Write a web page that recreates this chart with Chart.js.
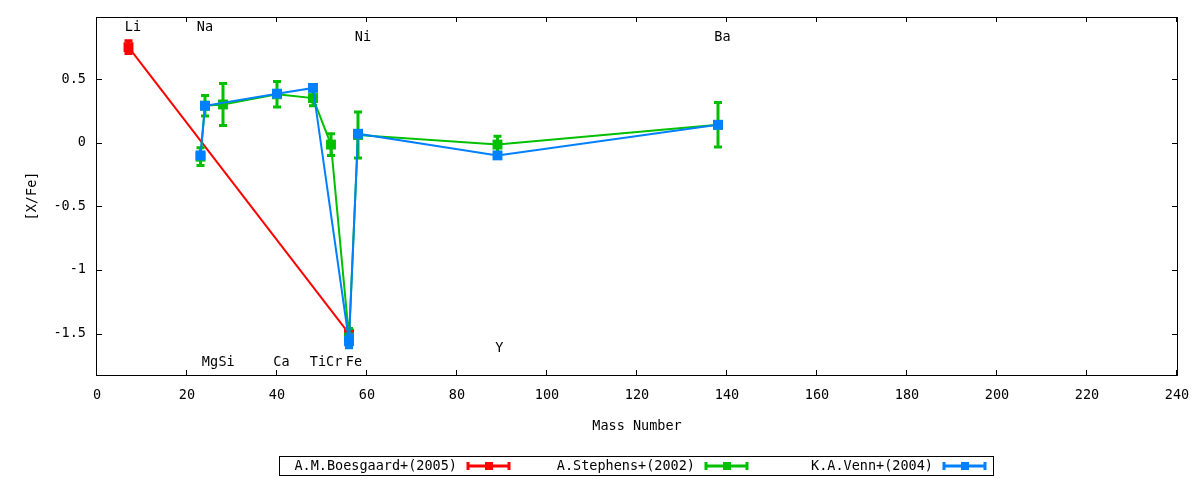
<!DOCTYPE html>
<html>
<head>
<meta charset="utf-8">
<script src="https://cdn.jsdelivr.net/npm/chart.js@4.4.1/dist/chart.umd.min.js"></script>
<style>
html, body { margin: 0; padding: 0; background: #fff; }
#wrap { width: 1200px; height: 480px; }
</style>
</head>
<body>
<div id="wrap"><canvas id="chart"></canvas></div>
<script>
// values
var boesX = [7, 56];
var boesY = [0.75, -1.50];
var boesErr = [0.05, 0.03];

var stepX = [23, 24, 28, 40, 48, 52, 56, 58, 89, 138];
var stepY = [-0.11, 0.29, 0.30, 0.38, 0.35, -0.015, -1.53, 0.06, -0.015, 0.14];
var stepErr = [0.07, 0.08, 0.165, 0.10, 0.06, 0.085, 0.07, 0.18, 0.065, 0.175];

var vennX = [23, 24, 40, 48, 56, 58, 89, 138];
var vennY = [-0.10, 0.29, 0.385, 0.43, -1.56, 0.07, -0.10, 0.14];
var vennErr = [0.02, 0.02, 0.02, 0.02, 0.05, 0.02, 0.02, 0.02];

var xTicks = [0, 20, 40, 60, 80, 100, 120, 140, 160, 180, 200, 220, 240];
var yTicks = [-1.5, -1, -0.5, 0, 0.5];

var elemNames = ['Li', 'Na', 'Mg', 'Si', 'Ca', 'Ti', 'Cr', 'Fe', 'Ni', 'Y', 'Ba'];
var elemX = [8, 24, 25.1, 28.8, 41, 49.1, 52.7, 57.1, 59.1, 89.4, 139];
var elemY = [0.905, 0.905, -1.725, -1.725, -1.725, -1.725, -1.725, -1.725, 0.825, -1.615, 0.825];

var FONT = '"DejaVu Sans Mono", monospace';
var FSIZE = 13.5;

function pts(xs, ys) {
    var out = [];
    for (var i = 0; i < xs.length; i++) out.push({x: xs[i], y: ys[i]});
    return out;
}

function series(label, color, xs, ys, errs, order) {
    return {
        label: label,
        data: pts(xs, ys),
        errors: errs,
        borderColor: color,
        backgroundColor: color,
        borderWidth: 2,
        showLine: true,
        tension: 0,
        pointStyle: 'rect',
        pointRadius: 7,
        pointHoverRadius: 7,
        pointBorderWidth: 0,
        order: order
    };
}

var gnuplotLook = {
    id: 'gnuplotLook',
    afterDatasetDraw: function(chart, args) {
        var ds = chart.data.datasets[args.index];
        var xs = chart.scales.x, ys = chart.scales.y;
        var ctx = chart.ctx;
        ctx.save();
        ctx.strokeStyle = ds.borderColor;
        ctx.lineWidth = 3;
        ds.data.forEach(function(p, i) {
            var e = ds.errors[i];
            var px = xs.getPixelForValue(p.x);
            var top = ys.getPixelForValue(p.y + e);
            var bot = ys.getPixelForValue(p.y - e);
            ctx.beginPath();
            ctx.moveTo(px, top); ctx.lineTo(px, bot);
            ctx.moveTo(px - 4, top); ctx.lineTo(px + 4, top);
            ctx.moveTo(px - 4, bot); ctx.lineTo(px + 4, bot);
            ctx.stroke();
        });
        ctx.restore();
    },
    afterDraw: function(chart) {
        var ctx = chart.ctx;
        var a = chart.chartArea;
        var xs = chart.scales.x, ys = chart.scales.y;
        ctx.save();
        // frame + inward ticks on all sides
        ctx.strokeStyle = '#000';
        ctx.lineWidth = 1;
        ctx.strokeRect(a.left - 0.5, a.top + 0.5, a.right - a.left + 1, a.bottom - a.top);
        ctx.beginPath();
        xTicks.forEach(function(v) {
            var px = Math.round(xs.getPixelForValue(v)) - 0.5;
            ctx.moveTo(px, a.bottom); ctx.lineTo(px, a.bottom - 5);
            ctx.moveTo(px, a.top); ctx.lineTo(px, a.top + 5);
        });
        yTicks.forEach(function(v) {
            var py = Math.round(ys.getPixelForValue(v)) + 0.5;
            ctx.moveTo(a.left, py); ctx.lineTo(a.left + 5, py);
            ctx.moveTo(a.right, py); ctx.lineTo(a.right - 5, py);
        });
        ctx.stroke();

        // element labels
        ctx.fillStyle = '#000';
        ctx.font = FSIZE + 'px ' + FONT;
        ctx.textAlign = 'center';
        ctx.textBaseline = 'middle';
        elemNames.forEach(function(n, i) {
            ctx.fillText(n, xs.getPixelForValue(elemX[i]), ys.getPixelForValue(elemY[i]));
        });

        // legend, gnuplot style: text right aligned, then sample
        ctx.strokeRect(279.5, 456.5, 714, 19);
        var cy = 466;
        chart.data.datasets.forEach(function(ds, i) {
            var sx = 467 + i * 238;
            ctx.textAlign = 'right';
            ctx.fillStyle = '#000';
            ctx.fillText(ds.label, sx - 10, cy);
            ctx.strokeStyle = ds.borderColor;
            ctx.lineWidth = 3;
            ctx.beginPath();
            ctx.moveTo(sx, cy); ctx.lineTo(sx + 43, cy);
            ctx.moveTo(sx + 1, cy - 4); ctx.lineTo(sx + 1, cy + 4);
            ctx.moveTo(sx + 42, cy - 4); ctx.lineTo(sx + 42, cy + 4);
            ctx.stroke();
            ctx.fillStyle = ds.borderColor;
            ctx.fillRect(sx + 18, cy - 4, 8, 8);
        });
        ctx.restore();
    }
};

new Chart(document.getElementById('chart'), {
    type: 'scatter',
    data: {
        datasets: [
            series('A.M.Boesgaard+(2005)', '#ff0000', boesX, boesY, boesErr, 3),
            series('A.Stephens+(2002)', '#00c000', stepX, stepY, stepErr, 2),
            series('K.A.Venn+(2004)', '#0080ff', vennX, vennY, vennErr, 1)
        ]
    },
    options: {
        responsive: true,
        maintainAspectRatio: false,
        animation: false,
        devicePixelRatio: 1,
        layout: { padding: { left: 0, right: 23, top: 17, bottom: 45 } },
        plugins: {
            legend: { display: false },
            tooltip: { enabled: false }
        },
        scales: {
            x: {
                type: 'linear',
                min: 0,
                max: 240,
                afterBuildTicks: function(s) { s.ticks = xTicks.map(function(v) { return {value: v}; }); },
                afterFit: function(s) { s.height = 60; s.paddingLeft = 0; s.paddingRight = 0; },
                grid: { display: false, drawTicks: false },
                border: { display: false },
                ticks: {
                    padding: 12,
                    maxRotation: 0,
                    color: '#000',
                    font: { family: FONT, size: FSIZE },
                    callback: function(v) { return String(v); }
                },
                title: {
                    display: true,
                    text: 'Mass Number',
                    color: '#000',
                    padding: 0,
                    font: { family: FONT, size: FSIZE }
                }
            },
            y: {
                type: 'linear',
                min: -1.825,
                max: 0.987,
                afterBuildTicks: function(s) { s.ticks = yTicks.map(function(v) { return {value: v}; }); },
                afterFit: function(s) { s.width = 97; s.paddingTop = 0; s.paddingBottom = 0; },
                grid: { display: false, drawTicks: false },
                border: { display: false },
                ticks: {
                    padding: 11,
                    color: '#000',
                    font: { family: FONT, size: FSIZE },
                    callback: function(v) { return String(v); }
                },
                title: {
                    display: true,
                    text: '[X/Fe]',
                    color: '#000',
                    padding: { top: 24, bottom: 0 },
                    font: { family: FONT, size: FSIZE }
                }
            }
        }
    },
    plugins: [gnuplotLook]
});
</script>
</body>
</html>
